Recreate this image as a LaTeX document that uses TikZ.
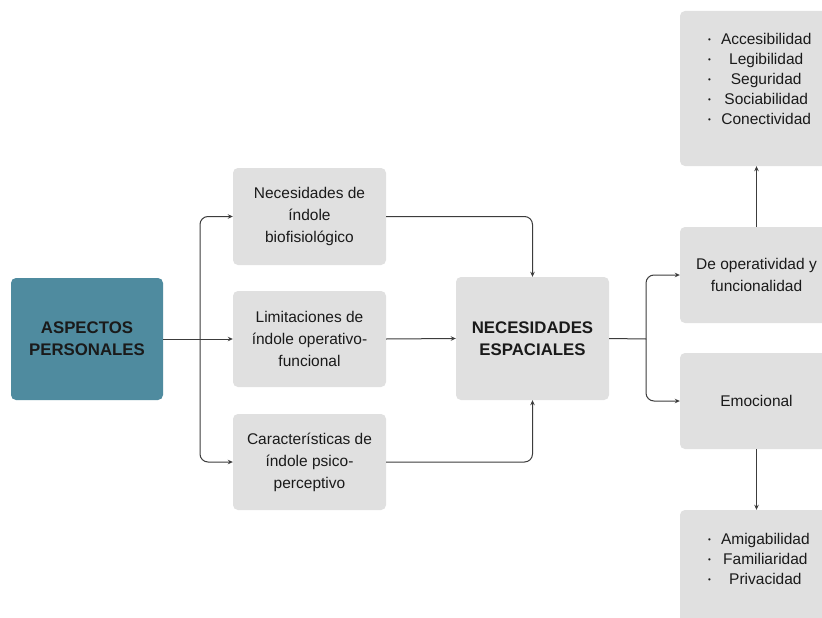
\documentclass[tikz,border=0pt]{standalone}
\usepackage{fontspec}
\setmainfont{Liberation Sans}
\usetikzlibrary{arrows.meta}
\definecolor{boxgray}{HTML}{E0E0E0}
\definecolor{teal}{HTML}{4F8B9F}
\definecolor{linegray}{HTML}{3C3C3C}
\definecolor{ink}{HTML}{1A1A1A}
\newcommand{\itemdot}{\raisebox{2pt}{\footnotesize •}}
\begin{document}
\begin{tikzpicture}[x=1pt,y=-1pt,
  box/.style={fill=boxgray, rounded corners=5pt, minimum width=153pt, minimum height=96pt,
    align=center, text=ink, inner sep=0pt, font=\fontsize{15.5}{22}\selectfont},
  bigbox/.style={box, font=\fontsize{16.8}{22}\selectfont\bfseries},
  conn/.style={draw=linegray, line width=1pt, rounded corners=8pt,
    -{Stealth[length=5pt,width=4.5pt]}},
  plain/.style={draw=linegray, line width=1pt},
  listtext/.style={text=ink, inner sep=0pt, font=\fontsize{15.5}{20}\selectfont}
]
\useasboundingbox (0,0) rectangle (822,618);
\clip (0,0) rectangle (822,618);
\fill[white] (0,0) rectangle (822,618);

% left column
\node[bigbox, fill=teal, minimum width=152pt, minimum height=122pt] (asp) at (87,339) {ASPECTOS\\PERSONALES};

% middle column
\node[box, minimum height=97pt] (bio) at (309.5,216.5) {Necesidades de\\índole\\biofisiológico};
\node[box] (ope) at (309.5,339) {Limitaciones de\\índole operativo-\\funcional};
\node[box] (psi) at (309.5,462) {Características de\\índole psico-\\perceptivo};

% centre
\node[bigbox, minimum height=123pt] (nec) at (532.5,338.5) {NECESIDADES\\ESPACIALES};

% right column
\node[box] (fun) at (756.5,275) {De operatividad y\\funcionalidad};
\node[box] (emo) at (756.5,401) {Emocional};
\node[box, minimum height=155pt] (top) at (756.5,88.5) {};
\node[box, minimum height=120pt] (bot) at (756.5,570) {};

% item lists
\node[listtext, anchor=north west] (toplist) at (708,30) {%
  \begin{tabular}{@{}c@{\hspace{10pt}}c@{}}
  \itemdot & Accesibilidad\\
  \itemdot & Legibilidad\\
  \itemdot & Seguridad\\
  \itemdot & Sociabilidad\\
  \itemdot & Conectividad
  \end{tabular}};
\node[listtext, anchor=north west] (botlist) at (708,530) {%
  \begin{tabular}{@{}c@{\hspace{10pt}}c@{}}
  \itemdot & Amigabilidad\\
  \itemdot & Familiaridad\\
  \itemdot & Privacidad
  \end{tabular}};

% connectors
\coordinate (split1) at (200,339);
\coordinate (split2) at (646,339);
\draw[conn] (asp.east) -- (ope.west);
\draw[conn] (split1) |- (bio.west);
\draw[conn] (split1) |- (psi.west);
\draw[conn] (bio.east) -| (nec.north);
\draw[conn] (ope.east) -- (nec.west);
\draw[conn] (psi.east) -| (nec.south);
\draw[plain] (nec.east) -- (split2);
\draw[conn] (split2) |- (fun.west);
\draw[conn] (split2) |- (emo.west);
\draw[conn] (fun.north) -- (top.south);
\draw[conn] (emo.south) -- (bot.north);
\end{tikzpicture}
\end{document}
